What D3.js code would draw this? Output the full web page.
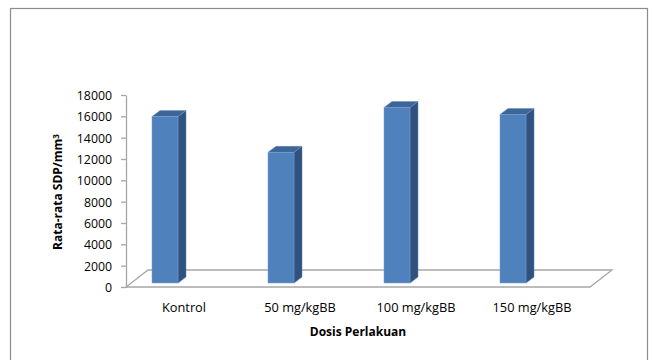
<!DOCTYPE html>
<html>
<head>
<meta charset="utf-8">
<script src="https://cdn.jsdelivr.net/npm/d3@7/dist/d3.min.js"></script>
<style>
  html, body { margin: 0; padding: 0; background: #fff; }
  svg { display: block; }
  text { font-family: "Open Sans", "Noto Sans", sans-serif; fill: #000; }
</style>
</head>
<body>
<svg id="chart" width="654" height="360"></svg>
<script>
// Treatment doses and mean counts
const categories = ["Kontrol", "50 mg/kgBB", "100 mg/kgBB", "150 mg/kgBB"];
const values = [15600, 12250, 16450, 15800];
const yTicks = [0, 2000, 4000, 6000, 8000, 10000, 12000, 14000, 16000, 18000];

const svg = d3.select("#chart");

// outer chart frame
svg.append("rect")
  .attr("x", 10.5).attr("y", 8.5)
  .attr("width", 637).attr("height", 370)
  .attr("fill", "#fff").attr("stroke", "#8c8c8c").attr("stroke-width", 1.2);

const x = d3.scaleBand().domain(categories).range([126, 590]);
const y = d3.scaleLinear().domain([0, 18000]).range([287, 95]);

// oblique depth of the floor and of each column
const floorDX = 22, floorDY = -17;
const depthDX = 8, depthDY = -6;
const barW = 26, barShift = -19, barLift = 4;

// floor
const fl = x.range()[0], fr = x.range()[1], fy = y(0);
svg.append("path")
  .attr("d", `M${fl},${fy} L${fr},${fy} L${fr + floorDX},${fy + floorDY} L${fl + floorDX},${fy + floorDY} Z`)
  .attr("fill", "none").attr("stroke", "#a6a6a6").attr("stroke-width", 1.3);

// value axis
const yAxis = svg.append("g")
  .attr("transform", `translate(${fl},0)`)
  .call(d3.axisLeft(y).tickValues(yTicks).tickSize(5).tickSizeOuter(0).tickPadding(9).tickFormat(d3.format("d")));
yAxis.select(".domain").attr("stroke", "#a6a6a6").attr("stroke-width", 1.3);
yAxis.selectAll(".tick line").attr("stroke", "#a6a6a6").attr("stroke-width", 1.3);
yAxis.selectAll(".tick text")
  .style("font-size", "12.3px")
  .style("fill", "#000")
  .attr("dy", "0.36em");

// columns
const bars = svg.append("g").selectAll("g").data(categories).join("g");
bars.each(function (c, i) {
  const g = d3.select(this);
  const x0 = x(c) + x.bandwidth() / 2 + barShift - barW / 2;
  const x1 = x0 + barW;
  const yb = y(0) - barLift;
  const yt = y(values[i]) - barLift;
  // side face
  g.append("path")
    .attr("d", `M${x1},${yt} L${x1 + depthDX},${yt + depthDY} L${x1 + depthDX},${yb + depthDY} L${x1},${yb} Z`)
    .attr("fill", "#31527e").attr("stroke", "#5b7fae").attr("stroke-width", 0.5);
  // top face
  g.append("path")
    .attr("d", `M${x0},${yt} L${x0 + depthDX},${yt + depthDY} L${x1 + depthDX},${yt + depthDY} L${x1},${yt} Z`)
    .attr("fill", "#3c6598").attr("stroke", "#6a8fc0").attr("stroke-width", 0.5);
  // front face
  g.append("rect")
    .attr("x", x0).attr("y", yt)
    .attr("width", barW).attr("height", yb - yt)
    .attr("fill", "#4f81bd").attr("stroke", "#7aa0d0").attr("stroke-width", 0.5);
});

// category labels
svg.append("g").selectAll("text").data(categories).join("text")
  .attr("x", d => x(d) + x.bandwidth() / 2)
  .attr("y", 312)
  .attr("text-anchor", "middle")
  .style("font-size", "12.8px")
  .text(d => d);

// axis titles
svg.append("text")
  .attr("x", 358).attr("y", 336)
  .attr("text-anchor", "middle")
  .style("font-size", "12px").style("font-weight", "bold")
  .text("Dosis Perlakuan");

const yt = svg.append("text")
  .attr("transform", "translate(62,192) rotate(-90)")
  .attr("text-anchor", "middle")
  .style("font-size", "12px").style("font-weight", "bold");
yt.append("tspan").text("Rata-rata SDP/mm");
yt.append("tspan").attr("dy", "-0.4em").style("font-size", "8px").text("3");
</script>
</body>
</html>
